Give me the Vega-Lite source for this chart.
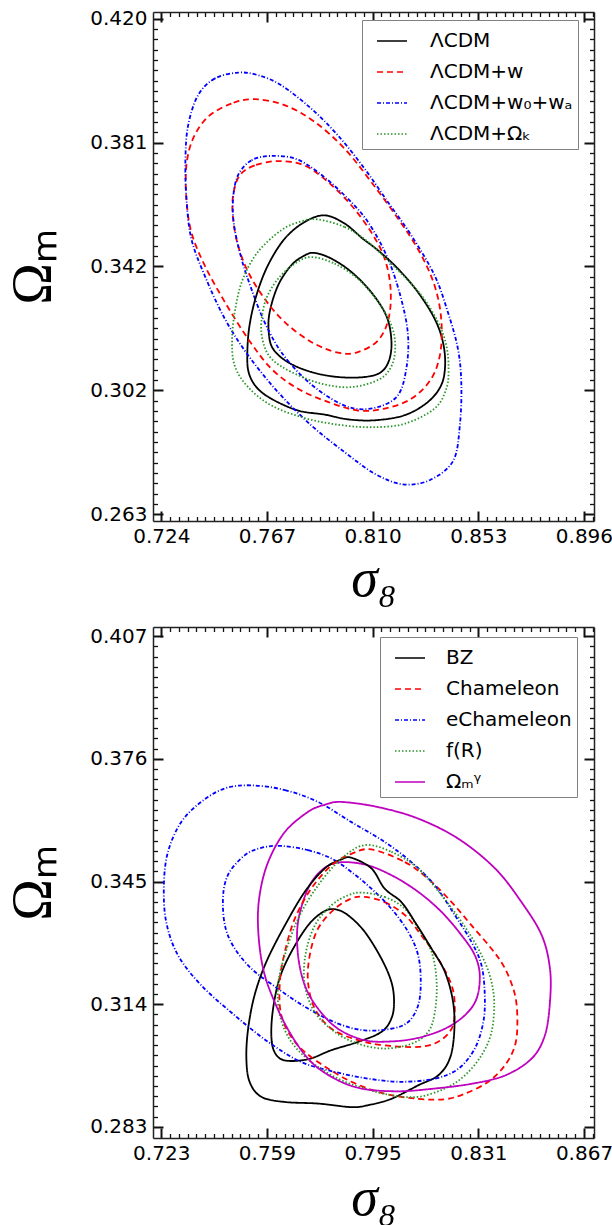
{
"$schema": "https://vega.github.io/schema/vega-lite/v6.json",
"background": "white",
"padding": {"left": 5, "top": 8, "right": 0, "bottom": 0},
"bounds": "flush",
"spacing": 106,
"config": {"view": {"stroke": null}, "axis": {"grid": false, "domainColor": "#222222", "domainWidth": 1.5, "tickColor": "#111111", "labelFont": "DejaVu Sans", "labelFontSize": 20, "labelColor": "black", "labelOverlap": false, "labelFlush": false, "labelBound": false, "titleFont": "Liberation Serif", "titleFontSize": 56, "titleFontWeight": "normal", "titleColor": "black"}},
"resolve": {"scale": {"x": "independent", "y": "independent", "color": "independent", "strokeDash": "independent"}, "legend": {"color": "independent", "strokeDash": "independent"}},
"datasets": {
"top": [
{"model":"ΛCDM","cl":95,"i":0,"s8":0.7905,"om":0.3577},{"model":"ΛCDM","cl":95,"i":1,"s8":0.7986,"om":0.3551},{"model":"ΛCDM","cl":95,"i":2,"s8":0.8060,"om":0.3503},{"model":"ΛCDM","cl":95,"i":3,"s8":0.8122,"om":0.3466},{"model":"ΛCDM","cl":95,"i":4,"s8":0.8203,"om":0.3408},{"model":"ΛCDM","cl":95,"i":5,"s8":0.8284,"om":0.3334},{"model":"ΛCDM","cl":95,"i":6,"s8":0.8352,"om":0.3250},{"model":"ΛCDM","cl":95,"i":7,"s8":0.8386,"om":0.3176},{"model":"ΛCDM","cl":95,"i":8,"s8":0.8395,"om":0.3102},{"model":"ΛCDM","cl":95,"i":9,"s8":0.8379,"om":0.3039},{"model":"ΛCDM","cl":95,"i":10,"s8":0.8325,"om":0.2986},{"model":"ΛCDM","cl":95,"i":11,"s8":0.8230,"om":0.2944},{"model":"ΛCDM","cl":95,"i":12,"s8":0.8108,"om":0.2928},{"model":"ΛCDM","cl":95,"i":13,"s8":0.7999,"om":0.2931},{"model":"ΛCDM","cl":95,"i":14,"s8":0.7905,"om":0.2946},{"model":"ΛCDM","cl":95,"i":15,"s8":0.7796,"om":0.2959},{"model":"ΛCDM","cl":95,"i":16,"s8":0.7688,"om":0.2996},{"model":"ΛCDM","cl":95,"i":17,"s8":0.7627,"om":0.3033},{"model":"ΛCDM","cl":95,"i":18,"s8":0.7595,"om":0.3081},{"model":"ΛCDM","cl":95,"i":19,"s8":0.7590,"om":0.3144},{"model":"ΛCDM","cl":95,"i":20,"s8":0.7599,"om":0.3229},{"model":"ΛCDM","cl":95,"i":21,"s8":0.7627,"om":0.3324},{"model":"ΛCDM","cl":95,"i":22,"s8":0.7674,"om":0.3419},{"model":"ΛCDM","cl":95,"i":23,"s8":0.7742,"om":0.3503},{"model":"ΛCDM","cl":95,"i":24,"s8":0.7823,"om":0.3556},
{"model":"ΛCDM","cl":68,"i":0,"s8":0.7864,"om":0.3458},{"model":"ΛCDM","cl":68,"i":1,"s8":0.7932,"om":0.3440},{"model":"ΛCDM","cl":68,"i":2,"s8":0.8013,"om":0.3398},{"model":"ΛCDM","cl":68,"i":3,"s8":0.8094,"om":0.3334},{"model":"ΛCDM","cl":68,"i":4,"s8":0.8155,"om":0.3260},{"model":"ΛCDM","cl":68,"i":5,"s8":0.8176,"om":0.3186},{"model":"ΛCDM","cl":68,"i":6,"s8":0.8169,"om":0.3123},{"model":"ΛCDM","cl":68,"i":7,"s8":0.8135,"om":0.3081},{"model":"ΛCDM","cl":68,"i":8,"s8":0.8067,"om":0.3065},{"model":"ΛCDM","cl":68,"i":9,"s8":0.7959,"om":0.3065},{"model":"ΛCDM","cl":68,"i":10,"s8":0.7850,"om":0.3081},{"model":"ΛCDM","cl":68,"i":11,"s8":0.7755,"om":0.3112},{"model":"ΛCDM","cl":68,"i":12,"s8":0.7694,"om":0.3155},{"model":"ΛCDM","cl":68,"i":13,"s8":0.7677,"om":0.3208},{"model":"ΛCDM","cl":68,"i":14,"s8":0.7681,"om":0.3271},{"model":"ΛCDM","cl":68,"i":15,"s8":0.7715,"om":0.3355},{"model":"ΛCDM","cl":68,"i":16,"s8":0.7769,"om":0.3419},{"model":"ΛCDM","cl":68,"i":17,"s8":0.7823,"om":0.3450},
{"model":"ΛCDM+w","cl":95,"i":0,"s8":0.7620,"om":0.3945},{"model":"ΛCDM+w","cl":95,"i":1,"s8":0.7525,"om":0.3931},{"model":"ΛCDM+w","cl":95,"i":2,"s8":0.7430,"om":0.3889},{"model":"ΛCDM+w","cl":95,"i":3,"s8":0.7369,"om":0.3820},{"model":"ΛCDM+w","cl":95,"i":4,"s8":0.7342,"om":0.3735},{"model":"ΛCDM+w","cl":95,"i":5,"s8":0.7342,"om":0.3630},{"model":"ΛCDM+w","cl":95,"i":6,"s8":0.7362,"om":0.3524},{"model":"ΛCDM+w","cl":95,"i":7,"s8":0.7416,"om":0.3419},{"model":"ΛCDM+w","cl":95,"i":8,"s8":0.7498,"om":0.3303},{"model":"ΛCDM+w","cl":95,"i":9,"s8":0.7593,"om":0.3186},{"model":"ΛCDM+w","cl":95,"i":10,"s8":0.7688,"om":0.3091},{"model":"ΛCDM+w","cl":95,"i":11,"s8":0.7796,"om":0.3028},{"model":"ΛCDM+w","cl":95,"i":12,"s8":0.7918,"om":0.2986},{"model":"ΛCDM+w","cl":95,"i":13,"s8":0.8040,"om":0.2959},{"model":"ΛCDM+w","cl":95,"i":14,"s8":0.8149,"om":0.2965},{"model":"ΛCDM+w","cl":95,"i":15,"s8":0.8257,"om":0.2996},{"model":"ΛCDM+w","cl":95,"i":16,"s8":0.8339,"om":0.3060},{"model":"ΛCDM+w","cl":95,"i":17,"s8":0.8376,"om":0.3144},{"model":"ΛCDM+w","cl":95,"i":18,"s8":0.8379,"om":0.3250},{"model":"ΛCDM+w","cl":95,"i":19,"s8":0.8352,"om":0.3355},{"model":"ΛCDM+w","cl":95,"i":20,"s8":0.8291,"om":0.3461},{"model":"ΛCDM+w","cl":95,"i":21,"s8":0.8203,"om":0.3567},{"model":"ΛCDM+w","cl":95,"i":22,"s8":0.8094,"om":0.3683},{"model":"ΛCDM+w","cl":95,"i":23,"s8":0.7986,"om":0.3788},{"model":"ΛCDM+w","cl":95,"i":24,"s8":0.7864,"om":0.3873},{"model":"ΛCDM+w","cl":95,"i":25,"s8":0.7742,"om":0.3926},
{"model":"ΛCDM+w","cl":68,"i":0,"s8":0.7715,"om":0.3749},{"model":"ΛCDM+w","cl":68,"i":1,"s8":0.7620,"om":0.3735},{"model":"ΛCDM+w","cl":68,"i":2,"s8":0.7559,"om":0.3704},{"model":"ΛCDM+w","cl":68,"i":3,"s8":0.7532,"om":0.3640},{"model":"ΛCDM+w","cl":68,"i":4,"s8":0.7532,"om":0.3567},{"model":"ΛCDM+w","cl":68,"i":5,"s8":0.7552,"om":0.3482},{"model":"ΛCDM+w","cl":68,"i":6,"s8":0.7593,"om":0.3398},{"model":"ΛCDM+w","cl":68,"i":7,"s8":0.7660,"om":0.3313},{"model":"ΛCDM+w","cl":68,"i":8,"s8":0.7742,"om":0.3239},{"model":"ΛCDM+w","cl":68,"i":9,"s8":0.7850,"om":0.3176},{"model":"ΛCDM+w","cl":68,"i":10,"s8":0.7959,"om":0.3142},{"model":"ΛCDM+w","cl":68,"i":11,"s8":0.8040,"om":0.3144},{"model":"ΛCDM+w","cl":68,"i":12,"s8":0.8122,"om":0.3181},{"model":"ΛCDM+w","cl":68,"i":13,"s8":0.8165,"om":0.3250},{"model":"ΛCDM+w","cl":68,"i":14,"s8":0.8173,"om":0.3345},{"model":"ΛCDM+w","cl":68,"i":15,"s8":0.8149,"om":0.3440},{"model":"ΛCDM+w","cl":68,"i":16,"s8":0.8094,"om":0.3524},{"model":"ΛCDM+w","cl":68,"i":17,"s8":0.8013,"om":0.3609},{"model":"ΛCDM+w","cl":68,"i":18,"s8":0.7918,"om":0.3683},{"model":"ΛCDM+w","cl":68,"i":19,"s8":0.7823,"om":0.3735},
{"model":"ΛCDM+w₀+wₐ","cl":95,"i":0,"s8":0.7552,"om":0.4029},{"model":"ΛCDM+w₀+wₐ","cl":95,"i":1,"s8":0.7457,"om":0.4010},{"model":"ΛCDM+w₀+wₐ","cl":95,"i":2,"s8":0.7389,"om":0.3957},{"model":"ΛCDM+w₀+wₐ","cl":95,"i":3,"s8":0.7349,"om":0.3862},{"model":"ΛCDM+w₀+wₐ","cl":95,"i":4,"s8":0.7338,"om":0.3757},{"model":"ΛCDM+w₀+wₐ","cl":95,"i":5,"s8":0.7342,"om":0.3630},{"model":"ΛCDM+w₀+wₐ","cl":95,"i":6,"s8":0.7362,"om":0.3503},{"model":"ΛCDM+w₀+wₐ","cl":95,"i":7,"s8":0.7416,"om":0.3387},{"model":"ΛCDM+w₀+wₐ","cl":95,"i":8,"s8":0.7498,"om":0.3250},{"model":"ΛCDM+w₀+wₐ","cl":95,"i":9,"s8":0.7593,"om":0.3134},{"model":"ΛCDM+w₀+wₐ","cl":95,"i":10,"s8":0.7715,"om":0.3017},{"model":"ΛCDM+w₀+wₐ","cl":95,"i":11,"s8":0.7850,"om":0.2912},{"model":"ΛCDM+w₀+wₐ","cl":95,"i":12,"s8":0.7986,"om":0.2827},{"model":"ΛCDM+w₀+wₐ","cl":95,"i":13,"s8":0.8108,"om":0.2759},{"model":"ΛCDM+w₀+wₐ","cl":95,"i":14,"s8":0.8223,"om":0.2725},{"model":"ΛCDM+w₀+wₐ","cl":95,"i":15,"s8":0.8334,"om":0.2739},{"model":"ΛCDM+w₀+wₐ","cl":95,"i":16,"s8":0.8428,"om":0.2800},{"model":"ΛCDM+w₀+wₐ","cl":95,"i":17,"s8":0.8455,"om":0.2912},{"model":"ΛCDM+w₀+wₐ","cl":95,"i":18,"s8":0.8461,"om":0.3043},{"model":"ΛCDM+w₀+wₐ","cl":95,"i":19,"s8":0.8447,"om":0.3155},{"model":"ΛCDM+w₀+wₐ","cl":95,"i":20,"s8":0.8406,"om":0.3271},{"model":"ΛCDM+w₀+wₐ","cl":95,"i":21,"s8":0.8352,"om":0.3387},{"model":"ΛCDM+w₀+wₐ","cl":95,"i":22,"s8":0.8257,"om":0.3514},{"model":"ΛCDM+w₀+wₐ","cl":95,"i":23,"s8":0.8162,"om":0.3619},{"model":"ΛCDM+w₀+wₐ","cl":95,"i":24,"s8":0.8067,"om":0.3725},{"model":"ΛCDM+w₀+wₐ","cl":95,"i":25,"s8":0.7959,"om":0.3830},{"model":"ΛCDM+w₀+wₐ","cl":95,"i":26,"s8":0.7850,"om":0.3915},{"model":"ΛCDM+w₀+wₐ","cl":95,"i":27,"s8":0.7728,"om":0.3989},{"model":"ΛCDM+w₀+wₐ","cl":95,"i":28,"s8":0.7633,"om":0.4021},
{"model":"ΛCDM+w₀+wₐ","cl":68,"i":0,"s8":0.7681,"om":0.3765},{"model":"ΛCDM+w₀+wₐ","cl":68,"i":1,"s8":0.7606,"om":0.3751},{"model":"ΛCDM+w₀+wₐ","cl":68,"i":2,"s8":0.7552,"om":0.3704},{"model":"ΛCDM+w₀+wₐ","cl":68,"i":3,"s8":0.7532,"om":0.3630},{"model":"ΛCDM+w₀+wₐ","cl":68,"i":4,"s8":0.7536,"om":0.3545},{"model":"ΛCDM+w₀+wₐ","cl":68,"i":5,"s8":0.7566,"om":0.3440},{"model":"ΛCDM+w₀+wₐ","cl":68,"i":6,"s8":0.7606,"om":0.3345},{"model":"ΛCDM+w₀+wₐ","cl":68,"i":7,"s8":0.7660,"om":0.3239},{"model":"ΛCDM+w₀+wₐ","cl":68,"i":8,"s8":0.7728,"om":0.3144},{"model":"ΛCDM+w₀+wₐ","cl":68,"i":9,"s8":0.7823,"om":0.3060},{"model":"ΛCDM+w₀+wₐ","cl":68,"i":10,"s8":0.7932,"om":0.2996},{"model":"ΛCDM+w₀+wₐ","cl":68,"i":11,"s8":0.8027,"om":0.2965},{"model":"ΛCDM+w₀+wₐ","cl":68,"i":12,"s8":0.8122,"om":0.2970},{"model":"ΛCDM+w₀+wₐ","cl":68,"i":13,"s8":0.8203,"om":0.3007},{"model":"ΛCDM+w₀+wₐ","cl":68,"i":14,"s8":0.8237,"om":0.3091},{"model":"ΛCDM+w₀+wₐ","cl":68,"i":15,"s8":0.8244,"om":0.3197},{"model":"ΛCDM+w₀+wₐ","cl":68,"i":16,"s8":0.8216,"om":0.3313},{"model":"ΛCDM+w₀+wₐ","cl":68,"i":17,"s8":0.8162,"om":0.3440},{"model":"ΛCDM+w₀+wₐ","cl":68,"i":18,"s8":0.8081,"om":0.3556},{"model":"ΛCDM+w₀+wₐ","cl":68,"i":19,"s8":0.7986,"om":0.3640},{"model":"ΛCDM+w₀+wₐ","cl":68,"i":20,"s8":0.7877,"om":0.3714},{"model":"ΛCDM+w₀+wₐ","cl":68,"i":21,"s8":0.7783,"om":0.3757},
{"model":"ΛCDM+Ωₖ","cl":95,"i":0,"s8":0.7877,"om":0.3564},{"model":"ΛCDM+Ωₖ","cl":95,"i":1,"s8":0.7986,"om":0.3540},{"model":"ΛCDM+Ωₖ","cl":95,"i":2,"s8":0.8081,"om":0.3493},{"model":"ΛCDM+Ωₖ","cl":95,"i":3,"s8":0.8203,"om":0.3403},{"model":"ΛCDM+Ωₖ","cl":95,"i":4,"s8":0.8298,"om":0.3324},{"model":"ΛCDM+Ωₖ","cl":95,"i":5,"s8":0.8366,"om":0.3239},{"model":"ΛCDM+Ωₖ","cl":95,"i":6,"s8":0.8400,"om":0.3165},{"model":"ΛCDM+Ωₖ","cl":95,"i":7,"s8":0.8409,"om":0.3091},{"model":"ΛCDM+Ωₖ","cl":95,"i":8,"s8":0.8400,"om":0.3028},{"model":"ΛCDM+Ωₖ","cl":95,"i":9,"s8":0.8352,"om":0.2965},{"model":"ΛCDM+Ωₖ","cl":95,"i":10,"s8":0.8230,"om":0.2917},{"model":"ΛCDM+Ωₖ","cl":95,"i":11,"s8":0.8094,"om":0.2906},{"model":"ΛCDM+Ωₖ","cl":95,"i":12,"s8":0.7959,"om":0.2914},{"model":"ΛCDM+Ωₖ","cl":95,"i":13,"s8":0.7823,"om":0.2935},{"model":"ΛCDM+Ωₖ","cl":95,"i":14,"s8":0.7688,"om":0.2975},{"model":"ΛCDM+Ωₖ","cl":95,"i":15,"s8":0.7593,"om":0.3033},{"model":"ΛCDM+Ωₖ","cl":95,"i":16,"s8":0.7538,"om":0.3102},{"model":"ΛCDM+Ωₖ","cl":95,"i":17,"s8":0.7528,"om":0.3186},{"model":"ΛCDM+Ωₖ","cl":95,"i":18,"s8":0.7541,"om":0.3281},{"model":"ΛCDM+Ωₖ","cl":95,"i":19,"s8":0.7572,"om":0.3376},{"model":"ΛCDM+Ωₖ","cl":95,"i":20,"s8":0.7633,"om":0.3461},{"model":"ΛCDM+Ωₖ","cl":95,"i":21,"s8":0.7728,"om":0.3530},{"model":"ΛCDM+Ωₖ","cl":95,"i":22,"s8":0.7810,"om":0.3558},
{"model":"ΛCDM+Ωₖ","cl":68,"i":0,"s8":0.7850,"om":0.3445},{"model":"ΛCDM+Ωₖ","cl":68,"i":1,"s8":0.7945,"om":0.3424},{"model":"ΛCDM+Ωₖ","cl":68,"i":2,"s8":0.8040,"om":0.3376},{"model":"ΛCDM+Ωₖ","cl":68,"i":3,"s8":0.8122,"om":0.3303},{"model":"ΛCDM+Ωₖ","cl":68,"i":4,"s8":0.8176,"om":0.3229},{"model":"ΛCDM+Ωₖ","cl":68,"i":5,"s8":0.8192,"om":0.3165},{"model":"ΛCDM+Ωₖ","cl":68,"i":6,"s8":0.8178,"om":0.3102},{"model":"ΛCDM+Ωₖ","cl":68,"i":7,"s8":0.8128,"om":0.3058},{"model":"ΛCDM+Ωₖ","cl":68,"i":8,"s8":0.8013,"om":0.3033},{"model":"ΛCDM+Ωₖ","cl":68,"i":9,"s8":0.7891,"om":0.3044},{"model":"ΛCDM+Ωₖ","cl":68,"i":10,"s8":0.7769,"om":0.3081},{"model":"ΛCDM+Ωₖ","cl":68,"i":11,"s8":0.7688,"om":0.3123},{"model":"ΛCDM+Ωₖ","cl":68,"i":12,"s8":0.7654,"om":0.3176},{"model":"ΛCDM+Ωₖ","cl":68,"i":13,"s8":0.7647,"om":0.3239},{"model":"ΛCDM+Ωₖ","cl":68,"i":14,"s8":0.7667,"om":0.3313},{"model":"ΛCDM+Ωₖ","cl":68,"i":15,"s8":0.7715,"om":0.3376},{"model":"ΛCDM+Ωₖ","cl":68,"i":16,"s8":0.7783,"om":0.3424}
],
"bottom": [
{"model":"BZ","cl":95,"i":0,"s8":0.7878,"om":0.3510},{"model":"BZ","cl":95,"i":1,"s8":0.7946,"om":0.3483},{"model":"BZ","cl":95,"i":2,"s8":0.7991,"om":0.3432},{"model":"BZ","cl":95,"i":3,"s8":0.8048,"om":0.3398},{"model":"BZ","cl":95,"i":4,"s8":0.8094,"om":0.3348},{"model":"BZ","cl":95,"i":5,"s8":0.8151,"om":0.3280},{"model":"BZ","cl":95,"i":6,"s8":0.8196,"om":0.3222},{"model":"BZ","cl":95,"i":7,"s8":0.8224,"om":0.3146},{"model":"BZ","cl":95,"i":8,"s8":0.8228,"om":0.3070},{"model":"BZ","cl":95,"i":9,"s8":0.8213,"om":0.3003},{"model":"BZ","cl":95,"i":10,"s8":0.8173,"om":0.2960},{"model":"BZ","cl":95,"i":11,"s8":0.8105,"om":0.2935},{"model":"BZ","cl":95,"i":12,"s8":0.8014,"om":0.2901},{"model":"BZ","cl":95,"i":13,"s8":0.7935,"om":0.2885},{"model":"BZ","cl":95,"i":14,"s8":0.7878,"om":0.2880},{"model":"BZ","cl":95,"i":15,"s8":0.7764,"om":0.2889},{"model":"BZ","cl":95,"i":16,"s8":0.7651,"om":0.2893},{"model":"BZ","cl":95,"i":17,"s8":0.7571,"om":0.2906},{"model":"BZ","cl":95,"i":18,"s8":0.7531,"om":0.2944},{"model":"BZ","cl":95,"i":19,"s8":0.7520,"om":0.3003},{"model":"BZ","cl":95,"i":20,"s8":0.7526,"om":0.3078},{"model":"BZ","cl":95,"i":21,"s8":0.7548,"om":0.3163},{"model":"BZ","cl":95,"i":22,"s8":0.7588,"om":0.3247},{"model":"BZ","cl":95,"i":23,"s8":0.7651,"om":0.3339},{"model":"BZ","cl":95,"i":24,"s8":0.7719,"om":0.3424},{"model":"BZ","cl":95,"i":25,"s8":0.7787,"om":0.3483},{"model":"BZ","cl":95,"i":26,"s8":0.7844,"om":0.3506},
{"model":"BZ","cl":68,"i":0,"s8":0.7821,"om":0.3380},{"model":"BZ","cl":68,"i":1,"s8":0.7866,"om":0.3365},{"model":"BZ","cl":68,"i":2,"s8":0.7923,"om":0.3323},{"model":"BZ","cl":68,"i":3,"s8":0.7980,"om":0.3255},{"model":"BZ","cl":68,"i":4,"s8":0.8014,"om":0.3196},{"model":"BZ","cl":68,"i":5,"s8":0.8023,"om":0.3146},{"model":"BZ","cl":68,"i":6,"s8":0.8014,"om":0.3104},{"model":"BZ","cl":68,"i":7,"s8":0.7980,"om":0.3070},{"model":"BZ","cl":68,"i":8,"s8":0.7901,"om":0.3045},{"model":"BZ","cl":68,"i":9,"s8":0.7810,"om":0.3024},{"model":"BZ","cl":68,"i":10,"s8":0.7730,"om":0.3001},{"model":"BZ","cl":68,"i":11,"s8":0.7651,"om":0.2998},{"model":"BZ","cl":68,"i":12,"s8":0.7616,"om":0.3019},{"model":"BZ","cl":68,"i":13,"s8":0.7605,"om":0.3062},{"model":"BZ","cl":68,"i":14,"s8":0.7611,"om":0.3129},{"model":"BZ","cl":68,"i":15,"s8":0.7633,"om":0.3205},{"model":"BZ","cl":68,"i":16,"s8":0.7673,"om":0.3272},{"model":"BZ","cl":68,"i":17,"s8":0.7730,"om":0.3339},{"model":"BZ","cl":68,"i":18,"s8":0.7781,"om":0.3373},
{"model":"Chameleon","cl":95,"i":0,"s8":0.7946,"om":0.3531},{"model":"Chameleon","cl":95,"i":1,"s8":0.8060,"om":0.3499},{"model":"Chameleon","cl":95,"i":2,"s8":0.8139,"om":0.3457},{"model":"Chameleon","cl":95,"i":3,"s8":0.8219,"om":0.3398},{"model":"Chameleon","cl":95,"i":4,"s8":0.8287,"om":0.3339},{"model":"Chameleon","cl":95,"i":5,"s8":0.8355,"om":0.3280},{"model":"Chameleon","cl":95,"i":6,"s8":0.8401,"om":0.3230},{"model":"Chameleon","cl":95,"i":7,"s8":0.8435,"om":0.3163},{"model":"Chameleon","cl":95,"i":8,"s8":0.8443,"om":0.3095},{"model":"Chameleon","cl":95,"i":9,"s8":0.8435,"om":0.3036},{"model":"Chameleon","cl":95,"i":10,"s8":0.8401,"om":0.2986},{"model":"Chameleon","cl":95,"i":11,"s8":0.8344,"om":0.2944},{"model":"Chameleon","cl":95,"i":12,"s8":0.8264,"om":0.2914},{"model":"Chameleon","cl":95,"i":13,"s8":0.8196,"om":0.2900},{"model":"Chameleon","cl":95,"i":14,"s8":0.8105,"om":0.2901},{"model":"Chameleon","cl":95,"i":15,"s8":0.7991,"om":0.2914},{"model":"Chameleon","cl":95,"i":16,"s8":0.7878,"om":0.2944},{"model":"Chameleon","cl":95,"i":17,"s8":0.7764,"om":0.2994},{"model":"Chameleon","cl":95,"i":18,"s8":0.7685,"om":0.3045},{"model":"Chameleon","cl":95,"i":19,"s8":0.7639,"om":0.3112},{"model":"Chameleon","cl":95,"i":20,"s8":0.7634,"om":0.3196},{"model":"Chameleon","cl":95,"i":21,"s8":0.7651,"om":0.3272},{"model":"Chameleon","cl":95,"i":22,"s8":0.7685,"om":0.3356},{"model":"Chameleon","cl":95,"i":23,"s8":0.7741,"om":0.3432},{"model":"Chameleon","cl":95,"i":24,"s8":0.7810,"om":0.3491},{"model":"Chameleon","cl":95,"i":25,"s8":0.7878,"om":0.3520},
{"model":"Chameleon","cl":68,"i":0,"s8":0.7923,"om":0.3411},{"model":"Chameleon","cl":68,"i":1,"s8":0.7991,"om":0.3398},{"model":"Chameleon","cl":68,"i":2,"s8":0.8060,"om":0.3365},{"model":"Chameleon","cl":68,"i":3,"s8":0.8116,"om":0.3314},{"model":"Chameleon","cl":68,"i":4,"s8":0.8173,"om":0.3255},{"model":"Chameleon","cl":68,"i":5,"s8":0.8219,"om":0.3188},{"model":"Chameleon","cl":68,"i":6,"s8":0.8230,"om":0.3129},{"model":"Chameleon","cl":68,"i":7,"s8":0.8219,"om":0.3078},{"model":"Chameleon","cl":68,"i":8,"s8":0.8173,"om":0.3045},{"model":"Chameleon","cl":68,"i":9,"s8":0.8105,"om":0.3032},{"model":"Chameleon","cl":68,"i":10,"s8":0.7991,"om":0.3036},{"model":"Chameleon","cl":68,"i":11,"s8":0.7901,"om":0.3049},{"model":"Chameleon","cl":68,"i":12,"s8":0.7810,"om":0.3078},{"model":"Chameleon","cl":68,"i":13,"s8":0.7753,"om":0.3129},{"model":"Chameleon","cl":68,"i":14,"s8":0.7730,"om":0.3196},{"model":"Chameleon","cl":68,"i":15,"s8":0.7736,"om":0.3264},{"model":"Chameleon","cl":68,"i":16,"s8":0.7764,"om":0.3331},{"model":"Chameleon","cl":68,"i":17,"s8":0.7821,"om":0.3381},{"model":"Chameleon","cl":68,"i":18,"s8":0.7878,"om":0.3407},
{"model":"eChameleon","cl":95,"i":0,"s8":0.7537,"om":0.3693},{"model":"eChameleon","cl":95,"i":1,"s8":0.7651,"om":0.3681},{"model":"eChameleon","cl":95,"i":2,"s8":0.7764,"om":0.3651},{"model":"eChameleon","cl":95,"i":3,"s8":0.7878,"om":0.3600},{"model":"eChameleon","cl":95,"i":4,"s8":0.7991,"om":0.3550},{"model":"eChameleon","cl":95,"i":5,"s8":0.8082,"om":0.3499},{"model":"eChameleon","cl":95,"i":6,"s8":0.8162,"om":0.3440},{"model":"eChameleon","cl":95,"i":7,"s8":0.8230,"om":0.3365},{"model":"eChameleon","cl":95,"i":8,"s8":0.8287,"om":0.3297},{"model":"eChameleon","cl":95,"i":9,"s8":0.8321,"om":0.3238},{"model":"eChameleon","cl":95,"i":10,"s8":0.8332,"om":0.3163},{"model":"eChameleon","cl":95,"i":11,"s8":0.8327,"om":0.3095},{"model":"eChameleon","cl":95,"i":12,"s8":0.8298,"om":0.3028},{"model":"eChameleon","cl":95,"i":13,"s8":0.8242,"om":0.2977},{"model":"eChameleon","cl":95,"i":14,"s8":0.8162,"om":0.2952},{"model":"eChameleon","cl":95,"i":15,"s8":0.8048,"om":0.2944},{"model":"eChameleon","cl":95,"i":16,"s8":0.7935,"om":0.2952},{"model":"eChameleon","cl":95,"i":17,"s8":0.7821,"om":0.2969},{"model":"eChameleon","cl":95,"i":18,"s8":0.7707,"om":0.2994},{"model":"eChameleon","cl":95,"i":19,"s8":0.7594,"om":0.3045},{"model":"eChameleon","cl":95,"i":20,"s8":0.7480,"om":0.3112},{"model":"eChameleon","cl":95,"i":21,"s8":0.7366,"om":0.3188},{"model":"eChameleon","cl":95,"i":22,"s8":0.7287,"om":0.3264},{"model":"eChameleon","cl":95,"i":23,"s8":0.7247,"om":0.3348},{"model":"eChameleon","cl":95,"i":24,"s8":0.7239,"om":0.3440},{"model":"eChameleon","cl":95,"i":25,"s8":0.7253,"om":0.3525},{"model":"eChameleon","cl":95,"i":26,"s8":0.7298,"om":0.3600},{"model":"eChameleon","cl":95,"i":27,"s8":0.7366,"om":0.3651},{"model":"eChameleon","cl":95,"i":28,"s8":0.7446,"om":0.3685},
{"model":"eChameleon","cl":68,"i":0,"s8":0.7639,"om":0.3540},{"model":"eChameleon","cl":68,"i":1,"s8":0.7730,"om":0.3529},{"model":"eChameleon","cl":68,"i":2,"s8":0.7810,"om":0.3508},{"model":"eChameleon","cl":68,"i":3,"s8":0.7878,"om":0.3474},{"model":"eChameleon","cl":68,"i":4,"s8":0.7946,"om":0.3432},{"model":"eChameleon","cl":68,"i":5,"s8":0.8014,"om":0.3381},{"model":"eChameleon","cl":68,"i":6,"s8":0.8071,"om":0.3323},{"model":"eChameleon","cl":68,"i":7,"s8":0.8105,"om":0.3264},{"model":"eChameleon","cl":68,"i":8,"s8":0.8114,"om":0.3196},{"model":"eChameleon","cl":68,"i":9,"s8":0.8105,"om":0.3137},{"model":"eChameleon","cl":68,"i":10,"s8":0.8071,"om":0.3095},{"model":"eChameleon","cl":68,"i":11,"s8":0.8014,"om":0.3078},{"model":"eChameleon","cl":68,"i":12,"s8":0.7923,"om":0.3074},{"model":"eChameleon","cl":68,"i":13,"s8":0.7832,"om":0.3091},{"model":"eChameleon","cl":68,"i":14,"s8":0.7730,"om":0.3129},{"model":"eChameleon","cl":68,"i":15,"s8":0.7628,"om":0.3179},{"model":"eChameleon","cl":68,"i":16,"s8":0.7526,"om":0.3238},{"model":"eChameleon","cl":68,"i":17,"s8":0.7457,"om":0.3314},{"model":"eChameleon","cl":68,"i":18,"s8":0.7440,"om":0.3398},{"model":"eChameleon","cl":68,"i":19,"s8":0.7457,"om":0.3466},{"model":"eChameleon","cl":68,"i":20,"s8":0.7514,"om":0.3516},{"model":"eChameleon","cl":68,"i":21,"s8":0.7571,"om":0.3535},
{"model":"f(R)","cl":95,"i":0,"s8":0.7923,"om":0.3542},{"model":"f(R)","cl":95,"i":1,"s8":0.8014,"om":0.3525},{"model":"f(R)","cl":95,"i":2,"s8":0.8105,"om":0.3483},{"model":"f(R)","cl":95,"i":3,"s8":0.8185,"om":0.3415},{"model":"f(R)","cl":95,"i":4,"s8":0.8253,"om":0.3348},{"model":"f(R)","cl":95,"i":5,"s8":0.8310,"om":0.3280},{"model":"f(R)","cl":95,"i":6,"s8":0.8349,"om":0.3213},{"model":"f(R)","cl":95,"i":7,"s8":0.8364,"om":0.3146},{"model":"f(R)","cl":95,"i":8,"s8":0.8355,"om":0.3070},{"model":"f(R)","cl":95,"i":9,"s8":0.8321,"om":0.3011},{"model":"f(R)","cl":95,"i":10,"s8":0.8264,"om":0.2960},{"model":"f(R)","cl":95,"i":11,"s8":0.8196,"om":0.2927},{"model":"f(R)","cl":95,"i":12,"s8":0.8105,"om":0.2906},{"model":"f(R)","cl":95,"i":13,"s8":0.8014,"om":0.2910},{"model":"f(R)","cl":95,"i":14,"s8":0.7923,"om":0.2927},{"model":"f(R)","cl":95,"i":15,"s8":0.7832,"om":0.2952},{"model":"f(R)","cl":95,"i":16,"s8":0.7741,"om":0.2994},{"model":"f(R)","cl":95,"i":17,"s8":0.7673,"om":0.3045},{"model":"f(R)","cl":95,"i":18,"s8":0.7634,"om":0.3112},{"model":"f(R)","cl":95,"i":19,"s8":0.7628,"om":0.3188},{"model":"f(R)","cl":95,"i":20,"s8":0.7651,"om":0.3264},{"model":"f(R)","cl":95,"i":21,"s8":0.7696,"om":0.3356},{"model":"f(R)","cl":95,"i":22,"s8":0.7764,"om":0.3440},{"model":"f(R)","cl":95,"i":23,"s8":0.7844,"om":0.3508},
{"model":"f(R)","cl":68,"i":0,"s8":0.7912,"om":0.3422},{"model":"f(R)","cl":68,"i":1,"s8":0.7991,"om":0.3411},{"model":"f(R)","cl":68,"i":2,"s8":0.8060,"om":0.3381},{"model":"f(R)","cl":68,"i":3,"s8":0.8105,"om":0.3331},{"model":"f(R)","cl":68,"i":4,"s8":0.8151,"om":0.3272},{"model":"f(R)","cl":68,"i":5,"s8":0.8168,"om":0.3196},{"model":"f(R)","cl":68,"i":6,"s8":0.8162,"om":0.3120},{"model":"f(R)","cl":68,"i":7,"s8":0.8139,"om":0.3070},{"model":"f(R)","cl":68,"i":8,"s8":0.8082,"om":0.3040},{"model":"f(R)","cl":68,"i":9,"s8":0.7991,"om":0.3028},{"model":"f(R)","cl":68,"i":10,"s8":0.7901,"om":0.3040},{"model":"f(R)","cl":68,"i":11,"s8":0.7821,"om":0.3070},{"model":"f(R)","cl":68,"i":12,"s8":0.7753,"om":0.3120},{"model":"f(R)","cl":68,"i":13,"s8":0.7719,"om":0.3188},{"model":"f(R)","cl":68,"i":14,"s8":0.7721,"om":0.3264},{"model":"f(R)","cl":68,"i":15,"s8":0.7753,"om":0.3339},{"model":"f(R)","cl":68,"i":16,"s8":0.7810,"om":0.3390},{"model":"f(R)","cl":68,"i":17,"s8":0.7866,"om":0.3415},
{"model":"Ωₘᵞ","cl":95,"i":0,"s8":0.7844,"om":0.3651},{"model":"Ωₘᵞ","cl":95,"i":1,"s8":0.7969,"om":0.3638},{"model":"Ωₘᵞ","cl":95,"i":2,"s8":0.8105,"om":0.3609},{"model":"Ωₘᵞ","cl":95,"i":3,"s8":0.8242,"om":0.3558},{"model":"Ωₘᵞ","cl":95,"i":4,"s8":0.8367,"om":0.3483},{"model":"Ωₘᵞ","cl":95,"i":5,"s8":0.8457,"om":0.3398},{"model":"Ωₘᵞ","cl":95,"i":6,"s8":0.8526,"om":0.3314},{"model":"Ωₘᵞ","cl":95,"i":7,"s8":0.8554,"om":0.3230},{"model":"Ωₘᵞ","cl":95,"i":8,"s8":0.8554,"om":0.3146},{"model":"Ωₘᵞ","cl":95,"i":9,"s8":0.8537,"om":0.3062},{"model":"Ωₘᵞ","cl":95,"i":10,"s8":0.8492,"om":0.3003},{"model":"Ωₘᵞ","cl":95,"i":11,"s8":0.8401,"om":0.2960},{"model":"Ωₘᵞ","cl":95,"i":12,"s8":0.8287,"om":0.2939},{"model":"Ωₘᵞ","cl":95,"i":13,"s8":0.8162,"om":0.2927},{"model":"Ωₘᵞ","cl":95,"i":14,"s8":0.8037,"om":0.2920},{"model":"Ωₘᵞ","cl":95,"i":15,"s8":0.7912,"om":0.2927},{"model":"Ωₘᵞ","cl":95,"i":16,"s8":0.7821,"om":0.2952},{"model":"Ωₘᵞ","cl":95,"i":17,"s8":0.7741,"om":0.2994},{"model":"Ωₘᵞ","cl":95,"i":18,"s8":0.7673,"om":0.3062},{"model":"Ωₘᵞ","cl":95,"i":19,"s8":0.7616,"om":0.3146},{"model":"Ωₘᵞ","cl":95,"i":20,"s8":0.7577,"om":0.3230},{"model":"Ωₘᵞ","cl":95,"i":21,"s8":0.7560,"om":0.3331},{"model":"Ωₘᵞ","cl":95,"i":22,"s8":0.7565,"om":0.3415},{"model":"Ωₘᵞ","cl":95,"i":23,"s8":0.7594,"om":0.3499},{"model":"Ωₘᵞ","cl":95,"i":24,"s8":0.7651,"om":0.3575},{"model":"Ωₘᵞ","cl":95,"i":25,"s8":0.7730,"om":0.3626},{"model":"Ωₘᵞ","cl":95,"i":26,"s8":0.7787,"om":0.3644},
{"model":"Ωₘᵞ","cl":68,"i":0,"s8":0.7832,"om":0.3498},{"model":"Ωₘᵞ","cl":68,"i":1,"s8":0.7923,"om":0.3493},{"model":"Ωₘᵞ","cl":68,"i":2,"s8":0.8014,"om":0.3466},{"model":"Ωₘᵞ","cl":68,"i":3,"s8":0.8105,"om":0.3424},{"model":"Ωₘᵞ","cl":68,"i":4,"s8":0.8185,"om":0.3373},{"model":"Ωₘᵞ","cl":68,"i":5,"s8":0.8253,"om":0.3314},{"model":"Ωₘᵞ","cl":68,"i":6,"s8":0.8298,"om":0.3264},{"model":"Ωₘᵞ","cl":68,"i":7,"s8":0.8315,"om":0.3213},{"model":"Ωₘᵞ","cl":68,"i":8,"s8":0.8304,"om":0.3154},{"model":"Ωₘᵞ","cl":68,"i":9,"s8":0.8264,"om":0.3112},{"model":"Ωₘᵞ","cl":68,"i":10,"s8":0.8196,"om":0.3078},{"model":"Ωₘᵞ","cl":68,"i":11,"s8":0.8105,"om":0.3055},{"model":"Ωₘᵞ","cl":68,"i":12,"s8":0.8014,"om":0.3046},{"model":"Ωₘᵞ","cl":68,"i":13,"s8":0.7923,"om":0.3049},{"model":"Ωₘᵞ","cl":68,"i":14,"s8":0.7832,"om":0.3078},{"model":"Ωₘᵞ","cl":68,"i":15,"s8":0.7764,"om":0.3129},{"model":"Ωₘᵞ","cl":68,"i":16,"s8":0.7719,"om":0.3188},{"model":"Ωₘᵞ","cl":68,"i":17,"s8":0.7696,"om":0.3264},{"model":"Ωₘᵞ","cl":68,"i":18,"s8":0.7696,"om":0.3348},{"model":"Ωₘᵞ","cl":68,"i":19,"s8":0.7730,"om":0.3432},{"model":"Ωₘᵞ","cl":68,"i":20,"s8":0.7776,"om":0.3478}
]
},
"vconcat": [
{
"width": 441, "height": 509,
"data": {"name": "top"},
"mark": {"type": "line", "interpolate": "cardinal-closed", "strokeWidth": 1.8},
"encoding": {
"color": {"field": "model", "type": "nominal", "scale": {"domain": ["ΛCDM","ΛCDM+w","ΛCDM+w₀+wₐ","ΛCDM+Ωₖ"], "range": ["#000000","#ff0000","#0000ff","#2a962a"]},
  "legend": {"title": null, "orient": "none", "legendX": 209, "legendY": 8, "fillColor": "white", "strokeColor": "#808080", "padding": 5, "symbolOffset": 9, "labelFont": "DejaVu Sans", "labelFontSize": 20, "labelColor": "black", "labelLimit": 300, "rowPadding": 5, "labelOffset": 22, "symbolType": "stroke", "symbolSize": 900, "symbolStrokeWidth": 1.3}},
"strokeDash": {"field": "model", "type": "nominal", "scale": {"domain": ["ΛCDM","ΛCDM+w","ΛCDM+w₀+wₐ","ΛCDM+Ωₖ"], "range": [[1,0],[6,4],[4,2,1,2],[1.5,2]]},
  "legend": {"title": null, "orient": "none", "legendX": 209, "legendY": 8, "fillColor": "white", "strokeColor": "#808080", "padding": 5, "symbolOffset": 9, "labelFont": "DejaVu Sans", "labelFontSize": 20, "labelColor": "black", "labelLimit": 300, "rowPadding": 5, "labelOffset": 22, "symbolType": "stroke", "symbolSize": 900, "symbolStrokeWidth": 1.3}},
"order": {"field": "i", "type": "quantitative"}
},
"layer": [
{"transform": [{"filter": "datum.cl == 68"}],
 "mark": {"type": "line", "interpolate": "cardinal-closed", "strokeWidth": 1.8},
 "encoding": {
 "x": {"field": "s8", "type": "quantitative", "scale": {"domain": [0.7206, 0.9001], "nice": false, "zero": false},
  "axis": {"orient": "bottom", "title": "σ₈", "titleFontStyle": "italic", "titleFontSize": 54, "titlePadding": 1,
   "values": [0.724,0.72758,0.73117,0.73475,0.73833,0.74192,0.7455,0.74908,0.75267,0.75625,0.75983,0.76342,0.767,0.77058,0.77417,0.77775,0.78133,0.78492,0.7885,0.79208,0.79567,0.79925,0.80283,0.80642,0.81,0.81358,0.81717,0.82075,0.82433,0.82792,0.8315,0.83508,0.83867,0.84225,0.84583,0.84942,0.853,0.85658,0.86017,0.86375,0.86733,0.87092,0.8745,0.87808,0.88167,0.88525,0.88883,0.89242,0.896,0.89958],
   "labelExpr": "abs((datum.value-0.724)/0.043-round((datum.value-0.724)/0.043))<0.05 ? ['0.724','0.767','0.810','0.853','0.896'][round((datum.value-0.724)/0.043)] : ''",
   "tickSize": {"condition": {"test": "abs((datum.value-0.724)/0.043-round((datum.value-0.724)/0.043))<0.05", "value": -10}, "value": -4.5},
   "tickWidth": {"condition": {"test": "abs((datum.value-0.724)/0.043-round((datum.value-0.724)/0.043))<0.05", "value": 2}, "value": 1.3},
   "labelPadding": 15}},
 "y": {"field": "om", "type": "quantitative", "scale": {"domain": [0.2609, 0.4221], "nice": false, "zero": false},
  "axis": {"orient": "left", "title": "Ωₘ", "titlePadding": 27,
   "values": [0.263,0.26627,0.26954,0.27281,0.27608,0.27935,0.28263,0.2859,0.28917,0.29244,0.29571,0.29898,0.30225,0.30552,0.30879,0.31206,0.31533,0.3186,0.32188,0.32515,0.32842,0.33169,0.33496,0.33823,0.3415,0.34477,0.34804,0.35131,0.35458,0.35785,0.36113,0.3644,0.36767,0.37094,0.37421,0.37748,0.38075,0.38402,0.38729,0.39056,0.39383,0.3971,0.40038,0.40365,0.40692,0.41019,0.41346,0.41673,0.42],
   "labelExpr": "abs((datum.value-0.263)/0.03925-round((datum.value-0.263)/0.03925))<0.05 ? ['0.263','0.302','0.342','0.381','0.420'][round((datum.value-0.263)/0.03925)] : ''",
   "tickSize": {"condition": {"test": "abs((datum.value-0.263)/0.03925-round((datum.value-0.263)/0.03925))<0.05", "value": -10}, "value": -4.5},
   "tickWidth": {"condition": {"test": "abs((datum.value-0.263)/0.03925-round((datum.value-0.263)/0.03925))<0.05", "value": 2}, "value": 1.3},
   "labelPadding": 16}}
 }},
{"transform": [{"filter": "datum.cl == 95"}],
 "mark": {"type": "line", "interpolate": "cardinal-closed", "strokeWidth": 1.8},
 "encoding": {
 "x": {"field": "s8", "type": "quantitative", "scale": {"domain": [0.7206, 0.9001], "nice": false, "zero": false},
  "axis": {"orient": "top", "title": null, "labels": false,
   "values": [0.724,0.72758,0.73117,0.73475,0.73833,0.74192,0.7455,0.74908,0.75267,0.75625,0.75983,0.76342,0.767,0.77058,0.77417,0.77775,0.78133,0.78492,0.7885,0.79208,0.79567,0.79925,0.80283,0.80642,0.81,0.81358,0.81717,0.82075,0.82433,0.82792,0.8315,0.83508,0.83867,0.84225,0.84583,0.84942,0.853,0.85658,0.86017,0.86375,0.86733,0.87092,0.8745,0.87808,0.88167,0.88525,0.88883,0.89242,0.896,0.89958],
   "tickSize": {"condition": {"test": "abs((datum.value-0.724)/0.043-round((datum.value-0.724)/0.043))<0.05", "value": -10}, "value": -4.5},
   "tickWidth": {"condition": {"test": "abs((datum.value-0.724)/0.043-round((datum.value-0.724)/0.043))<0.05", "value": 2}, "value": 1.3}}},
 "y": {"field": "om", "type": "quantitative", "scale": {"domain": [0.2609, 0.4221], "nice": false, "zero": false},
  "axis": {"orient": "right", "title": null, "labels": false,
   "values": [0.263,0.26627,0.26954,0.27281,0.27608,0.27935,0.28263,0.2859,0.28917,0.29244,0.29571,0.29898,0.30225,0.30552,0.30879,0.31206,0.31533,0.3186,0.32188,0.32515,0.32842,0.33169,0.33496,0.33823,0.3415,0.34477,0.34804,0.35131,0.35458,0.35785,0.36113,0.3644,0.36767,0.37094,0.37421,0.37748,0.38075,0.38402,0.38729,0.39056,0.39383,0.3971,0.40038,0.40365,0.40692,0.41019,0.41346,0.41673,0.42],
   "tickSize": {"condition": {"test": "abs((datum.value-0.263)/0.03925-round((datum.value-0.263)/0.03925))<0.05", "value": -10}, "value": -4.5},
   "tickWidth": {"condition": {"test": "abs((datum.value-0.263)/0.03925-round((datum.value-0.263)/0.03925))<0.05", "value": 2}, "value": 1.3}}}
 }}
],
"resolve": {"axis": {"x": "independent", "y": "independent"}}
},
{
"width": 441, "height": 511,
"data": {"name": "bottom"},
"mark": {"type": "line", "interpolate": "cardinal-closed", "strokeWidth": 1.8},
"encoding": {
"color": {"field": "model", "type": "nominal", "scale": {"domain": ["BZ","Chameleon","eChameleon","f(R)","Ωₘᵞ"], "range": ["#000000","#ff0000","#0000ff","#2a962a","#bf00bf"]},
  "legend": {"title": null, "orient": "none", "legendX": 227, "legendY": 10, "fillColor": "white", "strokeColor": "#808080", "padding": 5, "symbolOffset": 9, "labelFont": "DejaVu Sans", "labelFontSize": 20, "labelColor": "black", "labelLimit": 300, "rowPadding": 5, "labelOffset": 20, "symbolType": "stroke", "symbolSize": 900, "symbolStrokeWidth": 1.3}},
"strokeDash": {"field": "model", "type": "nominal", "scale": {"domain": ["BZ","Chameleon","eChameleon","f(R)","Ωₘᵞ"], "range": [[1,0],[6,4],[4,2,1,2],[1.5,2],[1,0]]},
  "legend": {"title": null, "orient": "none", "legendX": 227, "legendY": 10, "fillColor": "white", "strokeColor": "#808080", "padding": 5, "symbolOffset": 9, "labelFont": "DejaVu Sans", "labelFontSize": 20, "labelColor": "black", "labelLimit": 300, "rowPadding": 5, "labelOffset": 20, "symbolType": "stroke", "symbolSize": 900, "symbolStrokeWidth": 1.3}},
"order": {"field": "i", "type": "quantitative"}
},
"layer": [
{"transform": [{"filter": "datum.cl == 68"}],
 "mark": {"type": "line", "interpolate": "cardinal-closed", "strokeWidth": 1.8},
 "encoding": {
 "x": {"field": "s8", "type": "quantitative", "scale": {"domain": [0.7202, 0.8704], "nice": false, "zero": false},
  "axis": {"orient": "bottom", "title": "σ₈", "titleFontStyle": "italic", "titleFontSize": 54, "titlePadding": 3,
   "values": [0.723,0.726,0.729,0.732,0.735,0.738,0.741,0.744,0.747,0.75,0.753,0.756,0.759,0.762,0.765,0.768,0.771,0.774,0.777,0.78,0.783,0.786,0.789,0.792,0.795,0.798,0.801,0.804,0.807,0.81,0.813,0.816,0.819,0.822,0.825,0.828,0.831,0.834,0.837,0.84,0.843,0.846,0.849,0.852,0.855,0.858,0.861,0.864,0.867,0.87],
   "labelExpr": "abs((datum.value-0.723)/0.036-round((datum.value-0.723)/0.036))<0.05 ? ['0.723','0.759','0.795','0.831','0.867'][round((datum.value-0.723)/0.036)] : ''",
   "tickSize": {"condition": {"test": "abs((datum.value-0.723)/0.036-round((datum.value-0.723)/0.036))<0.05", "value": -10}, "value": -4.5},
   "tickWidth": {"condition": {"test": "abs((datum.value-0.723)/0.036-round((datum.value-0.723)/0.036))<0.05", "value": 2}, "value": 1.3},
   "labelPadding": 15}},
 "y": {"field": "om", "type": "quantitative", "scale": {"domain": [0.2802, 0.4093], "nice": false, "zero": false},
  "axis": {"orient": "left", "title": "Ωₘ", "titlePadding": 27,
   "values": [0.283,0.28558,0.28817,0.29075,0.29333,0.29592,0.2985,0.30108,0.30367,0.30625,0.30883,0.31142,0.314,0.31658,0.31917,0.32175,0.32433,0.32692,0.3295,0.33208,0.33467,0.33725,0.33983,0.34242,0.345,0.34758,0.35017,0.35275,0.35533,0.35792,0.3605,0.36308,0.36567,0.36825,0.37083,0.37342,0.376,0.37858,0.38117,0.38375,0.38633,0.38892,0.3915,0.39408,0.39667,0.39925,0.40183,0.40442,0.407],
   "labelExpr": "abs((datum.value-0.283)/0.031-round((datum.value-0.283)/0.031))<0.05 ? ['0.283','0.314','0.345','0.376','0.407'][round((datum.value-0.283)/0.031)] : ''",
   "tickSize": {"condition": {"test": "abs((datum.value-0.283)/0.031-round((datum.value-0.283)/0.031))<0.05", "value": -10}, "value": -4.5},
   "tickWidth": {"condition": {"test": "abs((datum.value-0.283)/0.031-round((datum.value-0.283)/0.031))<0.05", "value": 2}, "value": 1.3},
   "labelPadding": 16}}
 }},
{"transform": [{"filter": "datum.cl == 95"}],
 "mark": {"type": "line", "interpolate": "cardinal-closed", "strokeWidth": 1.8},
 "encoding": {
 "x": {"field": "s8", "type": "quantitative", "scale": {"domain": [0.7202, 0.8704], "nice": false, "zero": false},
  "axis": {"orient": "top", "title": null, "labels": false,
   "values": [0.723,0.726,0.729,0.732,0.735,0.738,0.741,0.744,0.747,0.75,0.753,0.756,0.759,0.762,0.765,0.768,0.771,0.774,0.777,0.78,0.783,0.786,0.789,0.792,0.795,0.798,0.801,0.804,0.807,0.81,0.813,0.816,0.819,0.822,0.825,0.828,0.831,0.834,0.837,0.84,0.843,0.846,0.849,0.852,0.855,0.858,0.861,0.864,0.867,0.87],
   "tickSize": {"condition": {"test": "abs((datum.value-0.723)/0.036-round((datum.value-0.723)/0.036))<0.05", "value": -10}, "value": -4.5},
   "tickWidth": {"condition": {"test": "abs((datum.value-0.723)/0.036-round((datum.value-0.723)/0.036))<0.05", "value": 2}, "value": 1.3}}},
 "y": {"field": "om", "type": "quantitative", "scale": {"domain": [0.2802, 0.4093], "nice": false, "zero": false},
  "axis": {"orient": "right", "title": null, "labels": false,
   "values": [0.283,0.28558,0.28817,0.29075,0.29333,0.29592,0.2985,0.30108,0.30367,0.30625,0.30883,0.31142,0.314,0.31658,0.31917,0.32175,0.32433,0.32692,0.3295,0.33208,0.33467,0.33725,0.33983,0.34242,0.345,0.34758,0.35017,0.35275,0.35533,0.35792,0.3605,0.36308,0.36567,0.36825,0.37083,0.37342,0.376,0.37858,0.38117,0.38375,0.38633,0.38892,0.3915,0.39408,0.39667,0.39925,0.40183,0.40442,0.407],
   "tickSize": {"condition": {"test": "abs((datum.value-0.283)/0.031-round((datum.value-0.283)/0.031))<0.05", "value": -10}, "value": -4.5},
   "tickWidth": {"condition": {"test": "abs((datum.value-0.283)/0.031-round((datum.value-0.283)/0.031))<0.05", "value": 2}, "value": 1.3}}}
 }}
],
"resolve": {"axis": {"x": "independent", "y": "independent"}}
}
]
}
